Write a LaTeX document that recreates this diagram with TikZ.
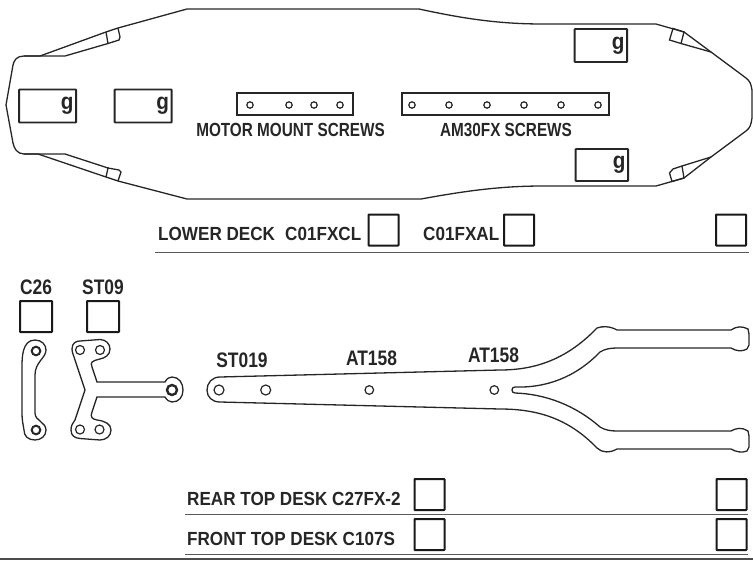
\documentclass[tikz,border=0pt]{standalone}
\usepackage{fontspec}
\setmainfont[FakeStretch=0.9]{Liberation Sans}
\tikzset{
	partline/.style={line width=1.3pt, black!85},
	tickbox/.style={draw=black!90, line width=2pt, minimum width=30pt, minimum height=31pt, inner sep=0pt, rounded corners=0.5pt},
	gbox/.style={draw=black!85, line width=1.8pt, minimum width=57pt, minimum height=33pt, inner xsep=2.5pt, inner ysep=0pt, text width=52pt, align=right, font=\fontsize{23}{23}\bfseries, text=black!85, rounded corners=0.5pt},
	partlabel/.style={font=\fontsize{19}{19}\bfseries, text=black!85, inner sep=0pt},
	screwlabel/.style={partlabel, xscale=0.895},
	bigpartlabel/.style={font=\fontsize{21}{21}\bfseries, text=black!85, inner sep=0pt, xscale=0.92},
	rowline/.style={line width=1pt, black!65},
}
\def\screwhole(#1,#2)(#3){\draw[line width=1.2pt, black!85] (#1, #2) circle (#3);}

\begin{document}
\begin{tikzpicture}[x=1pt, y=-1pt]
		%%%%% START %%%%%
		\useasboundingbox (0, 0) rectangle (753, 563);
		
		% lower deck
		\draw[partline] (187, 9) -- (419, 9) .. controls (465, 19) and (500, 24) .. (543, 24) -- (656, 24) -- (684, 32) -- (711, 52) -- (746, 78) .. controls (750, 81) and (751, 84) .. (752, 90) -- (752, 118) .. controls (751, 125) and (750, 128) .. (746, 131) -- (711, 157) -- (684, 178) -- (656, 186) -- (543, 186) .. controls (500, 186) and (465, 191) .. (421, 199) -- (187, 199) -- (118, 181) -- (106, 177) -- (38, 154) -- (24, 154) .. controls (17, 154) and (14, 148) .. (13, 143) -- (6, 105) -- (13, 65) .. controls (14, 60) and (17, 56) .. (24, 56) -- (40, 56) -- (106, 32) -- (118, 28) -- cycle;
		\draw[partline] (24, 56) -- (65, 56) -- (108, 43.5) -- (106, 32);
		\draw[partline] (108, 43.5) -- (119, 40) -- (120, 37) -- (118, 28);
		\draw[partline] (24, 154) -- (65, 154) -- (108, 168) -- (106, 177);
		\draw[partline] (108, 168) -- (119, 170) -- (121, 172) -- (118, 181);
		\draw[partline] (684, 32) -- (673, 28.5) -- (669.5, 40) -- (681, 43.5) -- cycle;
		\draw[partline] (681, 43.5) -- (711, 52);
		\draw[partline] (684, 178) -- (672, 181.5) -- (669.5, 173) -- (673, 169) -- (682, 166) -- cycle;
		\draw[partline] (682, 166) -- (711, 157);
		
		\node[gbox, anchor=east] (gnose) at (77, 106) {g};
		\node[gbox, anchor=east] (gfront) at (172.5, 106) {g};
		\node[gbox, minimum width=52.5pt, text width=47.5pt, anchor=east] (gtop) at (628, 45.5) {g};
		\node[gbox, minimum width=52.5pt, text width=47.5pt, minimum height=32pt, anchor=east] (gbottom) at (629, 165) {g};
		
		\draw[line width=1.2pt, black!85] (237, 93) rectangle (353, 115);
		\screwhole(250,105)(3.2)
		\screwhole(289,105)(3.2)
		\screwhole(314,105)(3.2)
		\screwhole(340,105)(3.2)
		\node[screwlabel] (motorscrews) at (290.5, 129.5) {MOTOR MOUNT SCREWS};
		
		\draw[line width=1.2pt, black!85] (402, 93) rectangle (609, 115);
		\screwhole(412,105)(3.2)
		\screwhole(449,105)(3.2)
		\screwhole(487,105)(3.2)
		\screwhole(524,105)(3.2)
		\screwhole(561,105)(3.2)
		\screwhole(598,105)(3.2)
		\node[screwlabel] (amscrews) at (506, 130) {AM30FX SCREWS};
		
		% lower deck row
		\node[partlabel, anchor=west] (lowerdeck) at (158, 234) {LOWER DECK};
		\node[partlabel, anchor=west] (clcode) at (285, 234) {C01FXCL};
		\node[tickbox] (clbox) at (383.5, 230) {};
		\node[partlabel, anchor=west] (alcode) at (423, 234) {C01FXAL};
		\node[tickbox] (albox) at (519, 230) {};
		\node[tickbox] (lowerbox) at (731, 230) {};
		\draw[rowline] (155, 252) -- (749, 252);
		
		% small parts
		\node[bigpartlabel] (celabel) at (36, 287) {C26};
		\node[tickbox, minimum width=32pt] (cebox) at (36, 316.5) {};
		\node[bigpartlabel] (stlabel) at (103, 287) {ST09};
		\node[tickbox, minimum width=32pt] (stbox) at (103, 316.5) {};
		
		\draw[partline] (35, 340) .. controls (42, 340) and (46, 345) .. (46, 350) .. controls (46, 358) and (35, 362) .. (35, 375) -- (35, 413) .. controls (35, 421) and (46, 422) .. (46, 430) .. controls (46, 436) and (41, 440) .. (35, 440) .. controls (28, 440) and (24, 436) .. (24, 430) .. controls (23, 424) and (22, 420) .. (22, 413) -- (22, 367) .. controls (22, 358) and (22, 340) .. (35, 340) -- cycle;
		\draw[line width=2pt, black!85] (36, 351) circle (4.3);
		\draw[line width=2pt, black!85] (36, 430) circle (4.3);
		
		\draw[partline] (72, 349) .. controls (72, 343) and (76, 341) .. (80, 341) -- (100, 339.5) .. controls (106, 339.5) and (110, 344) .. (110, 349) .. controls (110, 355) and (105, 358) .. (100, 359) .. controls (92, 361) and (90, 362) .. (92, 367) -- (97, 382) -- (165, 382) .. controls (167, 378) and (170, 377) .. (172, 377) .. controls (179, 377) and (183, 383) .. (183, 390) .. controls (183, 397) and (179, 402) .. (172, 402) .. controls (169, 402) and (167, 400) .. (165, 397) -- (97, 397) -- (92, 412) .. controls (90, 417) and (92, 419) .. (97, 420) .. controls (105, 421) and (111, 424) .. (111, 430) .. controls (111, 436) and (106, 440) .. (100, 440) -- (80, 438.5) .. controls (75, 438) and (71, 436) .. (71, 430) .. controls (71, 425) and (73, 423) .. (75, 420) -- (85, 390) -- (75, 360) .. controls (74, 356) and (72, 353) .. (72, 349) -- cycle;
		\screwhole(80,350)(4.5)
		\screwhole(100,350)(4.5)
		\screwhole(80,429.5)(4.5)
		\screwhole(99.5,429.5)(4.5)
		\draw[line width=2.4pt, black!85] (172, 390) circle (5);
		
		% rear top deck
		\draw[partline] (220, 377) -- (500, 370) .. controls (540, 370) and (570, 356) .. (597, 328) .. controls (602, 326) and (610, 326) .. (617, 330) -- (731, 330) .. controls (737, 326) and (742, 326) .. (748, 329) -- (749, 334) -- (749, 345) -- (747, 349) .. controls (742, 352) and (736, 351) .. (731, 348) -- (617, 348) .. controls (610, 348) and (605, 349) .. (600, 352) .. controls (575, 378) and (545, 388) .. (515, 387) .. controls (511, 387) and (511, 393) .. (515, 393) .. controls (545, 394) and (575, 405) .. (600, 427) .. controls (605, 430) and (610, 431) .. (617, 431) -- (731, 431) .. controls (736, 428) and (742, 427) .. (748, 431) -- (749, 436) -- (749, 447) -- (747, 451) .. controls (742, 453) and (736, 452) .. (731, 449) -- (617, 449) .. controls (610, 453) and (602, 453) .. (597, 448) .. controls (570, 420) and (540, 409) .. (500, 409) -- (220, 402) .. controls (212, 402) and (207, 397) .. (207, 390) .. controls (207, 383) and (212, 377) .. (220, 377) -- cycle;
		\screwhole(219,390)(5)
		\screwhole(265.7,390)(5)
		\screwhole(369.3,390)(4.3)
		\screwhole(494.3,390)(4.3)
		\node[bigpartlabel] (stparts) at (242, 360) {ST019};
		\node[bigpartlabel] (amleft) at (371.5, 358) {AT158};
		\node[bigpartlabel] (amright) at (493.5, 355) {AT158};
		
		% top deck rows
		\node[partlabel, anchor=west] (reardesk) at (187, 499.3) {REAR TOP DESK C27FX-2};
		\node[tickbox] (rearbox) at (429.5, 494.5) {};
		\node[tickbox] (rearright) at (731.5, 494.5) {};
		\draw[rowline] (185, 514.7) -- (748, 514.7);
		\node[partlabel, anchor=west] (frontdesk) at (187, 539) {FRONT TOP DESK C107S};
		\node[tickbox] (frontbox) at (429.5, 534.5) {};
		\node[tickbox] (frontright) at (731.5, 534.5) {};
		\draw[rowline] (185, 554.7) -- (748, 554.7);
		\draw[line width=1.8pt, black!70] (0, 559.3) -- (753, 559.3);
		%%%%% END %%%%%
	\end{tikzpicture}
\end{document}
